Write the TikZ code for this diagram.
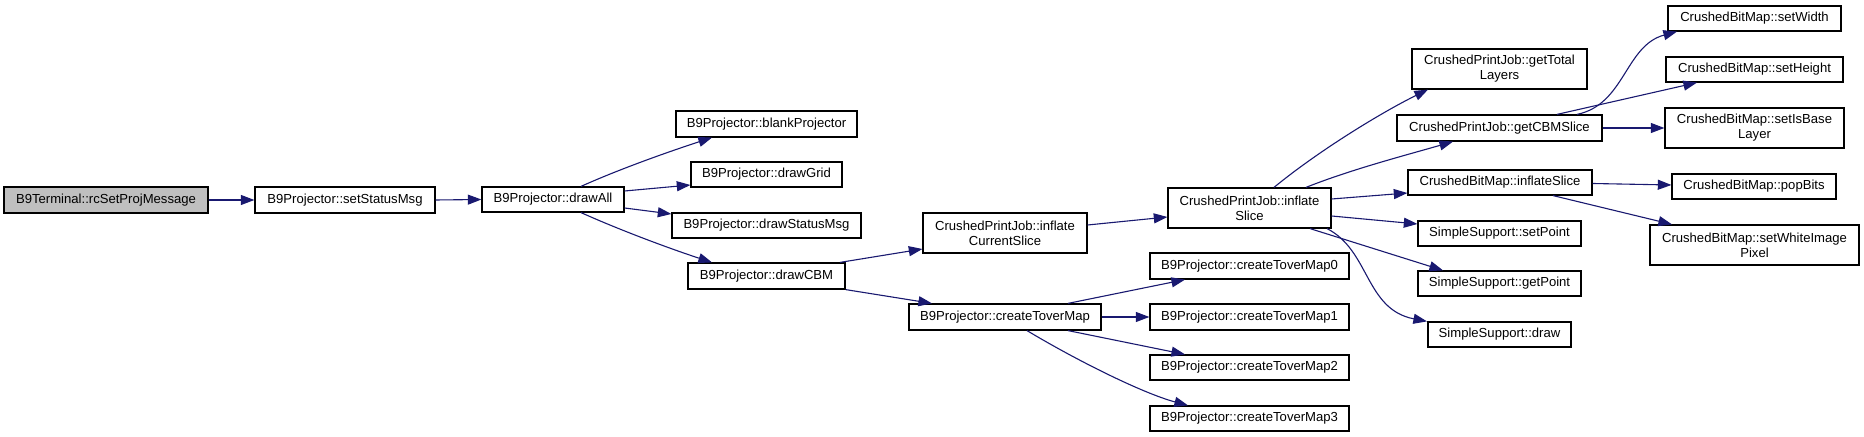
\documentclass[tikz,border=0pt]{standalone}
\usepackage{fontspec}
\setmainfont{Liberation Sans}
\usetikzlibrary{arrows.meta,calc}
\definecolor{edgecol}{HTML}{191970}
\definecolor{rootfill}{HTML}{BFBFBF}
\newcommand{\bx}[7][]{%
  \pgfmathsetmacro\bxcx{(#3+#5)/2}\pgfmathsetmacro\bxcy{(#4+#6)/2}%
  \pgfmathsetmacro\bxw{(#5-#3)*0.5}\pgfmathsetmacro\bxh{(#6-#4)*0.5}%
  \node[box,#1,minimum width=\bxw pt,minimum height=\bxh pt] (#2) at (\bxcx,\bxcy) {#7};}
\begin{document}
\begin{tikzpicture}[x=0.5pt,y=-0.5pt,
  box/.style={draw=black,line width=0.6pt,fill=white,inner sep=0pt,align=center,
    font=\fontsize{6.55}{7.5}\selectfont},
  call/.style={draw=edgecol,line width=0.55pt,-{Triangle[length=6.8pt,width=5pt]}}]
\useasboundingbox[fill=white] (0,0) rectangle (1864,437);
\bx[fill=rootfill]{term}{4}{187}{208}{213}{B9Terminal::rcSetProjMessage}
\bx{ssm}{255}{187}{435}{213}{B9Projector::setStatusMsg}
\bx{dall}{482}{187}{624}{212}{B9Projector::drawAll}
\bx{blank}{676}{111}{857}{137}{B9Projector::blankProjector}
\bx{grid}{691}{162}{842}{187}{B9Projector::drawGrid}
\bx{dsm}{672}{213}{861}{238}{B9Projector::drawStatusMsg}
\bx{cbm}{688}{263}{845}{289}{B9Projector::drawCBM}
\bx{ics}{923}{213}{1087}{253}{CrushedPrintJob::inflate\\CurrentSlice}
\bx{ctm}{909}{304}{1101}{330}{B9Projector::createToverMap}
\bx{isl}{1168}{188}{1331}{228}{CrushedPrintJob::inflate\\Slice}
\bx{m0}{1150}{253}{1349}{279}{B9Projector::createToverMap0}
\bx{m1}{1150}{304}{1349}{330}{B9Projector::createToverMap1}
\bx{m2}{1150}{355}{1349}{380}{B9Projector::createToverMap2}
\bx{m3}{1150}{406}{1349}{431}{B9Projector::createToverMap3}
\bx{gtl}{1412}{49}{1587}{89}{CrushedPrintJob::getTotal\\Layers}
\bx{gcs}{1397}{115}{1602}{141}{CrushedPrintJob::getCBMSlice}
\bx{cis}{1408}{170}{1592}{195}{CrushedBitMap::inflateSlice}
\bx{spt}{1418}{221}{1581}{246}{SimpleSupport::setPoint}
\bx{gpt}{1418}{271}{1581}{296}{SimpleSupport::getPoint}
\bx{sdr}{1428}{322}{1571}{347}{SimpleSupport::draw}
\bx{swd}{1668}{6}{1841}{31}{CrushedBitMap::setWidth}
\bx{shg}{1666}{57}{1843}{82}{CrushedBitMap::setHeight}
\bx{sib}{1665}{108}{1844}{148}{CrushedBitMap::setIsBase\\Layer}
\bx{pop}{1672}{174}{1836}{199}{CrushedBitMap::popBits}
\bx{swp}{1650}{225}{1859}{265}{CrushedBitMap::setWhiteImage\\Pixel}
% edges
\draw[call] (term.east) -- (ssm.west);
\draw[call] (ssm.east) -- (dall.west);
\draw[call] ($(dall.north)+(28,0)$) .. controls +(40,-18) and +(-40,13) .. ($(blank.south)+(-54.5,0)$);
\draw[call] ($(dall.east)+(0,-8.5)$) -- ($(grid.west)+(0,10.5)$);
\draw[call] ($(dall.east)+(0,8.5)$) -- ($(dsm.west)+(0,-11.5)$);
\draw[call] ($(dall.south)+(28,0)$) .. controls +(40,18) and +(-40,-13) .. ($(cbm.north)+(-54.5,0)$);
\draw[call] ($(cbm.north)+(73.5,0)$) -- ($(ics.west)+(0,16)$);
\draw[call] (cbm.south east) -- ($(ctm.north)+(-73,0)$);
\draw[call] ($(ics.east)+(0,-8)$) -- ($(isl.west)+(0,9)$);
\draw[call] ($(ctm.north)+(63,0)$) -- ($(m0.south)+(-64.5,0)$);
\draw[call] (ctm.east) -- (m1.west);
\draw[call] ($(ctm.south)+(63,0)$) -- ($(m2.north)+(-64.5,0)$);
\draw[call] ($(ctm.south)+(22,0)$) .. controls +(50,30) and +(-45,-12) .. ($(m3.north)+(-61.5,0)$);
\draw[call] ($(isl.north)+(24.5,0)$) .. controls +(45,-37) and +(-45,22) .. ($(gtl.south)+(-71.5,0)$);
\draw[call] ($(isl.north)+(56.5,0)$) .. controls +(45,-18) and +(-45,13) .. ($(gcs.south)+(-46.5,0)$);
\draw[call] ($(isl.east)+(0,-9)$) -- ($(cis.west)+(0,10.5)$);
\draw[call] ($(isl.east)+(0,8)$) -- ($(spt.west)+(0,-9.5)$);
\draw[call] ($(isl.south)+(60.5,0)$) -- ($(gpt.north)+(-56.5,0)$);
\draw[call] ($(isl.south)+(77.5,0)$) .. controls +(43,22) and +(-62,-12) .. ($(sdr.north)+(-72.5,0)$);
\draw[call] ($(gcs.north)+(77.5,0)$) .. controls +(48,-10) and +(-52,14) .. ($(swd.south)+(-77.5,0)$);
\draw[call] ($(gcs.north)+(57.5,0)$) -- ($(shg.south)+(-57.5,0)$);
\draw[call] (gcs.east) -- (sib.west);
\draw[call] ($(cis.east)+(0,1)$) -- ($(pop.west)+(0,-1.5)$);
\draw[call] ($(cis.south)+(53,0)$) -- ($(swp.north)+(-82.5,0)$);
\end{tikzpicture}
\end{document}
